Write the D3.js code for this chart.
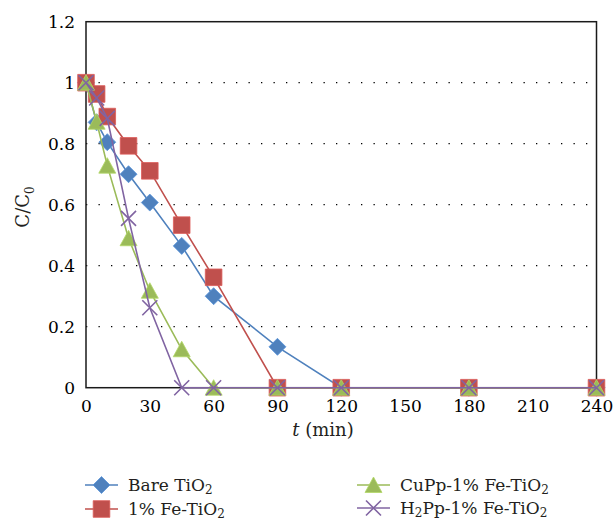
<!DOCTYPE html>
<html>
<head>
<meta charset="utf-8">
<script src="https://cdn.jsdelivr.net/npm/d3@7"></script>
<style>
  body { margin: 0; background: #fff; }
</style>
</head>
<body>
<div id="chart"></div>
<script>
// data
const times = [0, 5, 10, 20, 30, 45, 60, 90, 120, 180, 240]
const bareTiO2 = [1.0, 0.87, 0.805, 0.70, 0.607, 0.465, 0.30, 0.134, 0, 0, 0]
const feTiO2 = [1.0, 0.963, 0.889, 0.793, 0.711, 0.533, 0.362, 0, 0, 0, 0]
const cuppFeTiO2 = [1.0, 0.872, 0.728, 0.49, 0.318, 0.126, 0, 0, 0, 0, 0]
const h2ppFeTiO2 = [1.0, 0.95, 0.883, 0.555, 0.262, 0, 0, 0, 0, 0, 0]
const xTicks = [0, 30, 60, 90, 120, 150, 180, 210, 240]
const yTicks = [0, 0.2, 0.4, 0.6, 0.8, 1, 1.2]

const series = [
  { name: "Bare TiO", sub: "2", pre: "", values: bareTiO2, color: "#4f81bd", marker: "diamond" },
  { name: "1% Fe-TiO", sub: "2", pre: "", values: feTiO2, color: "#c0504d", marker: "square" },
  { name: "CuPp-1% Fe-TiO", sub: "2", pre: "", values: cuppFeTiO2, color: "#9bbb59", marker: "triangle" },
  { name: "Pp-1% Fe-TiO", sub: "2", pre: "H", values: h2ppFeTiO2, color: "#8064a2", marker: "cross" }
]

const FONT = "DejaVu Serif"
const width = 614, height = 521
const svg = d3.select("#chart").append("svg").attr("width", width).attr("height", height)
  .style("font-family", FONT).attr("fill", "#231f20")

const x = d3.scaleLinear().domain([0, 240]).range([86, 596.5])
const y = d3.scaleLinear().domain([0, 1.2]).range([387.7, 21.7])

// dotted grid
svg.append("g").selectAll("line").data(yTicks.filter(v => v > 0 && v < 1.2)).join("line")
  .attr("x1", x(0)).attr("x2", x(240))
  .attr("y1", d => y(d)).attr("y2", d => y(d))
  .attr("stroke", "#000").attr("stroke-width", 1.3)
  .attr("stroke-dasharray", "1.3,11.2")

// frame
svg.append("rect")
  .attr("x", x(0)).attr("y", y(1.2))
  .attr("width", x(240) - x(0)).attr("height", y(0) - y(1.2))
  .attr("fill", "none").attr("stroke", "#1a1a1a").attr("stroke-width", 1.5)

// axes (labels only)
const xAxis = svg.append("g").attr("transform", `translate(0,${y(0)})`)
  .call(d3.axisBottom(x).tickValues(xTicks).tickSize(0).tickPadding(12).tickFormat(d3.format("d")))
xAxis.attr("font-family", null).attr("font-size", 17)
xAxis.select(".domain").remove()

const yAxis = svg.append("g").attr("transform", `translate(${x(0)},0)`)
  .call(d3.axisLeft(y).tickValues(yTicks).tickSize(0).tickPadding(11).tickFormat(d => d === 0 || d === 1 ? String(d) : d.toFixed(1)))
yAxis.attr("font-family", null).attr("font-size", 17)
yAxis.select(".domain").remove()

// axis titles
const xt = svg.append("text").attr("x", 323).attr("y", 436).attr("text-anchor", "middle").attr("font-size", 18)
xt.append("tspan").attr("font-style", "italic").text("t")
xt.append("tspan").text(" (min)")

const yt = svg.append("text").attr("transform", "translate(29,207) rotate(-90)").attr("text-anchor", "middle").attr("font-size", 18)
yt.append("tspan").text("C/C")
yt.append("tspan").attr("font-size", 12).attr("dy", 5).text("0")

function markerPath(type) {
  if (type === "diamond") return "M0,-8.5L8.5,0L0,8.5L-8.5,0Z"
  if (type === "square") return "M-8.3,-8.3H8.3V8.3H-8.3Z"
  if (type === "triangle") return "M0,-8L8.5,7.5H-8.5Z"
  return "M-7.5,-7.5L7.5,7.5M7.5,-7.5L-7.5,7.5"
}

function drawMarker(g, type, color) {
  const p = g.append("path").attr("d", markerPath(type))
  if (type === "cross") p.attr("fill", "none").attr("stroke", color).attr("stroke-width", 1.6)
  else p.attr("fill", color).attr("stroke", d3.color(color).brighter(0.4)).attr("stroke-width", 0.8)
}

series.forEach(s => {
  const pts = times.map((t, i) => [t, s.values[i]])
  const line = d3.line().x(d => x(d[0])).y(d => y(d[1]))
  const g = svg.append("g")
  g.append("path").datum(pts).attr("d", line)
    .attr("fill", "none").attr("stroke", s.color).attr("stroke-width", 1.6)
  g.selectAll("g.m").data(pts).join("g").attr("class", "m")
    .attr("transform", d => `translate(${x(d[0])},${y(d[1])})`)
    .each(function () { drawMarker(d3.select(this), s.marker, s.color) })
})

// legend
const legendPos = [[85, 485], [85, 509], [357, 485], [357, 508]]
series.forEach((s, i) => {
  const [lx, ly] = legendPos[i]
  const g = svg.append("g").attr("transform", `translate(${lx},${ly})`)
  g.append("line").attr("x1", 0).attr("x2", 33).attr("stroke", s.color).attr("stroke-width", 1.6)
  const mg = g.append("g").attr("transform", "translate(16.5,0)")
  drawMarker(mg, s.marker, s.color)
  const t = g.append("text").attr("x", 43).attr("y", 6).attr("font-size", 17)
  if (s.pre) {
    t.append("tspan").text(s.pre)
    t.append("tspan").attr("font-size", 12).attr("dy", 3).text("2")
    t.append("tspan").attr("dy", -3).text(s.name)
  } else {
    t.append("tspan").text(s.name)
  }
  t.append("tspan").attr("font-size", 12).attr("dy", 3).text(s.sub)
})
</script>
</body>
</html>
